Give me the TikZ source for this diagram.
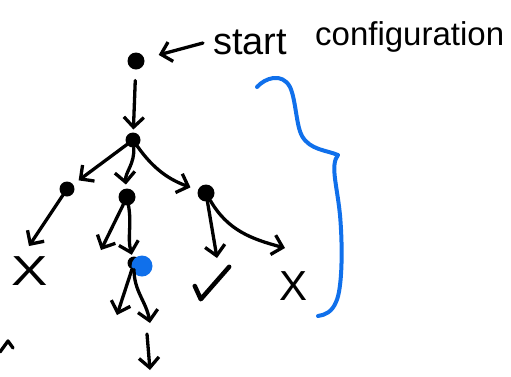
\documentclass[tikz,border=0pt]{standalone}
\usepackage{fontspec}
\setmainfont{Liberation Sans}
\usetikzlibrary{arrows.meta}
\definecolor{penblue}{RGB}{16,112,235}
\begin{document}
\begin{tikzpicture}[x=1pt,y=-1pt,
  dot/.style={circle,fill=black,inner sep=0pt,outer sep=0pt,minimum size=#1},
  arr/.style={line width=3.3pt,line cap=round,line join=round,
    -{Straight Barb[length=10pt,width=20pt]}},
  pen/.style={line width=3.3pt,line cap=round,line join=round},
  symb/.style={font=\fontsize{42}{42}\selectfont,inner sep=0pt},
  lbl/.style={font=\fontsize{33}{38}\selectfont,inner sep=0pt,anchor=base west}]
\useasboundingbox (0,0) rectangle (511,376);
% nodes
\node[dot=17pt] (n0) at (136,61) {};
\node[dot=15pt] (n1) at (133,140) {};
\node[dot=15pt] (n2) at (67,189) {};
\node[dot=17pt] (n3) at (127,197) {};
\node[dot=17pt] (n4) at (206,193) {};
\node[dot=13pt] (n5b) at (134,263) {};
\node[dot=21pt,fill=penblue] (n5) at (142,266) {};
\node[symb,xscale=1.3] (x1) at (30,271) {X};
\node[inner sep=0pt,minimum width=38pt,minimum height=32pt] (ck) at (214,283) {};
\node[symb] (x2) at (294,286) {X};
\node[lbl,font=\fontsize{38}{40}\selectfont] (t1) at (213,54) {start};
\node[lbl] (t2) at (315,45) {configuration};
% check mark
\draw[pen,line width=4.5pt] (ck.west) ++(0,3) -- ([xshift=6pt]ck.south west) -- ([xshift=-4pt]ck.north east);
% free ends
\coordinate (s0) at (203,43);
\coordinate (e2) at (29,246);
\coordinate (e3) at (101,250);
\coordinate (e4a) at (217,258);
\coordinate (e4b) at (285,248);
\coordinate (e5a) at (117,315);
\coordinate (e5b) at (150,323);
\coordinate (b0) at (147,334);
\coordinate (b1) at (150,370);
% connectors
\draw[arr,shorten >=15pt] (s0) -- (n0);
\draw[arr,shorten <=11pt,shorten >=3pt] (n0) -- (n1);
\draw[arr,shorten >=7pt] (n1) -- (n2);
\draw[arr,shorten >=4pt] (n1) to[out=-85,in=95] (n3);
\draw[arr,shorten >=8pt] (n1) to[out=-55,in=160] (n4);
\draw[arr] (n2) -- (e2);
\draw[arr] (n3) -- (e3);
\draw[arr,shorten >=2pt] (n3) to[out=-80,in=105] (n5b);
\draw[arr] (n4) -- (e4a);
\draw[arr] (n4) to[out=-60,in=165] (e4b);
\draw[arr] (n5b) -- (e5a);
\draw[arr] (n5b) to[out=-90,in=100] (e5b);
\draw[arr] (b0) -- (b1);
\draw[pen] (0,352) -- (8,341) -- (13,348);
% brace
\draw[penblue,line width=4pt,line cap=round,line join=round]
  (257,87) .. controls (265,78) and (282,72) .. (290,87)
  .. controls (296,100) and (296,125) .. (302,136)
  .. controls (310,150) and (326,150) .. (338,155)
  .. controls (330,165) and (337,185) .. (340,215)
  .. controls (343,250) and (342,290) .. (336,302)
  .. controls (332,312) and (325,315) .. (318,316);
\end{tikzpicture}
\end{document}
